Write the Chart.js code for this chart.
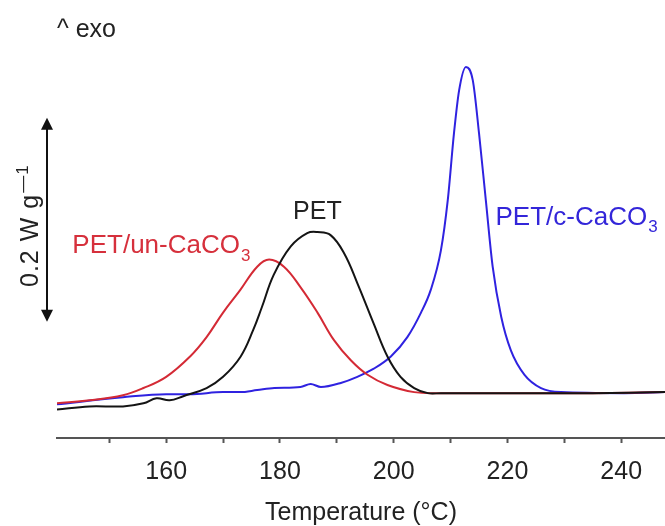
<!DOCTYPE html>
<html>
<head>
<meta charset="utf-8">
<script src="https://cdn.jsdelivr.net/npm/chart.js@4"></script>
<style>
body{margin:0;background:#fff;}
#wrap{width:665px;height:526px;position:relative;}
</style>
</head>
<body>
<div id="wrap"><canvas id="dsc"></canvas></div>
<script>
// temperatures (°C) and heat flow (W/g, shifted)
const petT = [140.8,146.5,152.4,156,158.3,160.6,163,167.1,170,173.1,175.3,176.8,178.9,181.9,184.8,186.6,188.9,191.3,193.6,196.5,198.9,201.2,203.6,206,208.3,220,235,247.7];
const petV = [0.028,0.031,0.031,0.034,0.039,0.037,0.041,0.049,0.060,0.080,0.106,0.128,0.160,0.188,0.201,0.202,0.199,0.181,0.152,0.112,0.080,0.060,0.049,0.044,0.044,0.044,0.044,0.045];

const unT = [140.8,146.5,152.4,156,160,164.2,167.1,170,173,176,178.1,180.7,183.6,186.6,189.5,192.5,195.4,198.9,203.6,208.3,220,235,247.7];
const unV = [0.034,0.037,0.042,0.049,0.060,0.080,0.099,0.123,0.145,0.168,0.175,0.168,0.148,0.123,0.096,0.076,0.062,0.052,0.045,0.044,0.044,0.044,0.045];

const cT = [140.8,152.4,160,164.2,170,173,176,179,183.6,185.4,187.2,190.7,193.6,196.5,199.5,202.4,204.8,206.5,208.3,209.5,210.6,211.5,212.7,213.9,215,216.2,217.4,218.9,220.6,223,225.9,229.4,240.5,247.7];
const cV = [0.033,0.040,0.043,0.043,0.045,0.045,0.047,0.049,0.050,0.053,0.050,0.054,0.060,0.068,0.080,0.099,0.123,0.145,0.184,0.233,0.299,0.341,0.364,0.351,0.299,0.233,0.168,0.119,0.086,0.062,0.049,0.045,0.044,0.045];

const xTicks = [150,160,170,180,190,200,210,220,230,240];

const FONT = '"Liberation Sans", Arial, sans-serif';
const pts = (t,v)=>t.map((x,i)=>({x:x,y:v[i]}));

// text with a subscript (or superscript when up is true)
function withSub(ctx,main,sub,x,y,size,subSize,up){
ctx.font = size+"px "+FONT;
ctx.fillText(main,x,y);
const w = ctx.measureText(main).width;
ctx.font = subSize+"px "+FONT;
ctx.fillText(sub,x+w+1,up ? y-size*0.42 : y+size*0.28);
}

const decor = {
id:"decor",
afterDraw(chart){
const ctx = chart.ctx;
const ys = chart.scales.y;
const xs = chart.scales.x;
ctx.save();
ctx.textBaseline = "alphabetic";
ctx.textAlign = "left";

// ^ exo
ctx.fillStyle = "#222";
ctx.font = "25px "+FONT;
ctx.fillText("^ exo",57,37);

// 0.2 W/g scale arrow
const ax = chart.chartArea.left-10;
const yTop = ys.getPixelForValue(0.314);
const yBot = ys.getPixelForValue(0.114);
ctx.strokeStyle = "#111";
ctx.fillStyle = "#111";
ctx.lineWidth = 2;
ctx.beginPath();
ctx.moveTo(ax,yTop+8);
ctx.lineTo(ax,yBot-8);
ctx.stroke();
ctx.beginPath();
ctx.moveTo(ax,yTop);ctx.lineTo(ax-6,yTop+12);ctx.lineTo(ax+6,yTop+12);ctx.closePath();ctx.fill();
ctx.beginPath();
ctx.moveTo(ax,yBot);ctx.lineTo(ax-6,yBot-12);ctx.lineTo(ax+6,yBot-12);ctx.closePath();ctx.fill();

ctx.save();
ctx.translate(38,287);
ctx.rotate(-Math.PI/2);
ctx.fillStyle = "#222";
ctx.letterSpacing = "1px";
withSub(ctx,"0.2 W g","\u20141",0,0,25,17,true);
ctx.restore();

// curve labels
ctx.fillStyle = "#222";
ctx.font = "25px "+FONT;
ctx.fillText("PET",xs.getPixelForValue(182.3),ys.getPixelForValue(0.2144));

ctx.fillStyle = "#d6303c";
withSub(ctx,"PET/un-CaCO","3",xs.getPixelForValue(143.5),ys.getPixelForValue(0.181),26,17,false);

ctx.fillStyle = "#3326d9";
withSub(ctx,"PET/c-CaCO","3",xs.getPixelForValue(217.9),ys.getPixelForValue(0.2088),26,17,false);

ctx.restore();
}
};

new Chart(document.getElementById("dsc"),{
type:"line",
data:{
datasets:[
{
label:"PET",
data:pts(petT,petV),
borderColor:"#141414",
borderWidth:2,
pointRadius:0,
tension:0.4
},
{
label:"PET/un-CaCO3",
data:pts(unT,unV),
borderColor:"#d42a35",
borderWidth:2,
pointRadius:0,
tension:0.4
},
{
label:"PET/c-CaCO3",
data:pts(cT,cV),
borderColor:"#2f22e0",
borderWidth:2,
pointRadius:0,
cubicInterpolationMode:"monotone"
}
]
},
options:{
responsive:true,
maintainAspectRatio:false,
animation:false,
layout:{
padding:{left:57,right:0,top:20,bottom:0}
},
plugins:{
legend:{display:false},
tooltip:{enabled:false}
},
scales:{
x:{
type:"linear",
min:140.8,
max:247.7,
afterBuildTicks:axis=>{
axis.ticks = xTicks.map(v=>({value:v}));
},
ticks:{
autoSkip:false,
maxRotation:0,
padding:14,
color:"#222",
font:{family:FONT,size:25},
callback:v=>v%20===0 ? String(v) : ""
},
grid:{
drawOnChartArea:false,
tickLength:5,
tickWidth:2,
tickColor:"#555"
},
border:{
color:"#555",
width:2
},
title:{
display:true,
text:"Temperature (°C)",
color:"#222",
font:{family:FONT,size:25,lineHeight:1},
padding:{top:0,bottom:0}
}
},
y:{
display:false,
min:0,
max:0.41
}
}
},
plugins:[decor]
});
</script>
</body>
</html>
